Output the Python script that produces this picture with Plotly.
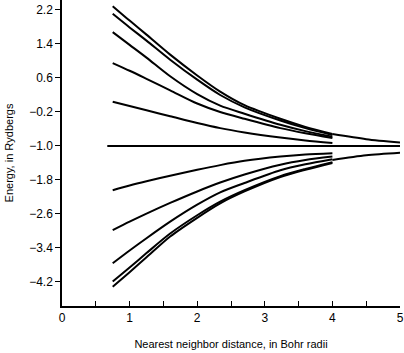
import plotly.graph_objects as go

# distances (Bohr radii) at which curves are sampled
x_band = [0.75, 1.0, 1.25, 1.6, 2.0, 2.34, 2.7, 3.23, 3.6, 4.0]

# upper branches (Rydbergs)
up1 = [2.29, 1.95, 1.62, 1.15, 0.66, 0.28, -0.04, -0.36, -0.55, -0.72]
up2 = [2.11, 1.79, 1.48, 1.03, 0.56, 0.20, -0.09, -0.40, -0.58, -0.74]
up3 = [1.68, 1.38, 1.08, 0.64, 0.22, -0.05, -0.24, -0.50, -0.65, -0.78]
up4 = [0.95, 0.77, 0.58, 0.31, 0.00, -0.20, -0.36, -0.58, -0.70, -0.81]
up5 = [0.04, -0.06, -0.16, -0.30, -0.46, -0.58, -0.68, -0.80, -0.87, -0.93]

# lower branches
lo1 = [-2.04, -1.93, -1.83, -1.70, -1.56, -1.45, -1.35, -1.25, -1.20, -1.17]
lo2 = [-2.98, -2.78, -2.59, -2.34, -2.07, -1.86, -1.67, -1.44, -1.33, -1.25]
lo3 = [-3.76, -3.46, -3.17, -2.78, -2.38, -2.09, -1.87, -1.57, -1.43, -1.31]
lo4 = [-4.19, -3.86, -3.52, -3.06, -2.63, -2.31, -2.04, -1.71, -1.54, -1.38]
lo5 = [-4.31, -3.97, -3.62, -3.13, -2.69, -2.35, -2.07, -1.73, -1.56, -1.40]

# continuation beyond 4 Bohr radii
x_ext = [4.0, 4.5, 5.0]
up_ext = [-0.72, -0.84, -0.92]
lo_ext = [-1.33, -1.22, -1.16]

# flat level
x_flat = [0.67, 5.0]
e_flat = [-1.0, -1.0]

x_ticks = [0, 0.5, 1, 1.5, 2, 2.5, 3, 3.5, 4, 4.5, 5]
x_labels = ["0", "", "1", "", "2", "", "3", "", "4", "", "5"]
y_ticks = [2.2, 1.4, 0.6, -0.2, -1.0, -1.8, -2.6, -3.4, -4.2]
y_labels = ["2.2", "1.4", "0.6", "\u22120.2", "\u22121.0", "\u22121.8", "\u22122.6", "\u22123.4", "\u22124.2"]

fig = go.Figure()
line = dict(color="black", width=2, shape="spline", smoothing=0.8)
for ys in [up1, up2, up3, up4, up5, lo1, lo2, lo3, lo4, lo5]:
    fig.add_trace(go.Scatter(x=x_band, y=ys, mode="lines", line=line, hoverinfo="skip"))
for ys in [up_ext, lo_ext]:
    fig.add_trace(go.Scatter(x=x_ext, y=ys, mode="lines", line=line, hoverinfo="skip"))
fig.add_trace(go.Scatter(x=x_flat, y=e_flat, mode="lines", line=dict(color="black", width=2), hoverinfo="skip"))

font = dict(family="Liberation Sans, Arial, sans-serif", color="black")
fig.update_layout(
    width=404, height=353,
    margin=dict(l=62, r=4, t=0, b=47),
    paper_bgcolor="white", plot_bgcolor="white",
    showlegend=False,
    font=dict(size=12, **font),
    xaxis=dict(
        range=[0, 5], tickvals=x_ticks, ticktext=x_labels,
        ticks="inside", ticklen=5, tickwidth=1, tickcolor="black",
        showline=True, linecolor="black", linewidth=1.5,
        showgrid=False, zeroline=False, automargin=False,
        tickfont=dict(size=12, **font),
        title=dict(text="Nearest neighbor distance, in Bohr radii", font=dict(size=11, **font), standoff=16),
    ),
    yaxis=dict(
        range=[-4.765, 2.435], tickvals=y_ticks, ticktext=y_labels,
        ticks="outside", ticklen=5, tickwidth=1, tickcolor="black",
        showline=True, linecolor="black", linewidth=1.5,
        showgrid=False, zeroline=False, automargin=False,
        tickfont=dict(size=12, **font),
        title=dict(text="Energy, in Rydbergs", font=dict(size=11, **font), standoff=13),
    ),
)
fig.write_html("out.html", config={"displayModeBar": False},
               post_script="document.body.style.margin='0px';")
